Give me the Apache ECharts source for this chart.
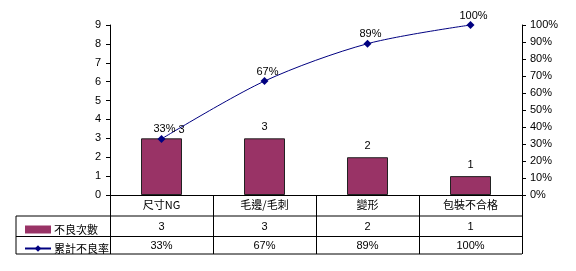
<!DOCTYPE html>
<html><head><meta charset="utf-8">
<script src="https://cdn.jsdelivr.net/npm/echarts@6/dist/echarts.min.js"></script>
<style>html,body{margin:0;padding:0;background:#fff}#c{width:576px;height:271px}</style>
</head><body><div id="c"></div>
<script>
var categories = ['尺寸NG', '毛邊/毛刺', '變形', '包裝不合格'];
var counts = [3, 3, 2, 1];
var cumRate = [0.33, 0.67, 0.89, 1.00];
var cumLabels = ['33%', '67%', '89%', '100%'];
var seriesNames = ['不良次數', '累計不良率'];

var G = {left: 110, right: 54, top: 25, bottom: 76};
var W = 576, H = 271;
var axisY = H - G.bottom;       // 195
var rightX = W - G.right;       // 522
var row1 = axisY + 21, row2 = axisY + 41.5, row3 = axisY + 59;
var FONT = 'Liberation Sans, Arial, sans-serif';
var CJK = '"Noto Sans CJK TC", "Noto Sans CJK SC", sans-serif';

var chart = echarts.init(document.getElementById('c'));
var barData = counts.map(function (v, i) {
  var d = {value: v};
  if (i === 0) d.label = {offset: [20, 3]};
  return d;
});
var lineLabelFmt = function (p) { return cumLabels[p.dataIndex]; };

var hLine = function (x1, y, x2) {
  return {type: 'line', shape: {x1: x1, y1: y, x2: x2, y2: y}, style: {stroke: '#000', lineWidth: 1}, silent: true};
};

chart.setOption({
  animation: false,
  backgroundColor: '#fff',
  textStyle: {fontFamily: FONT},
  grid: {left: G.left, right: G.right, top: G.top, bottom: G.bottom, containLabel: false},
  legend: {
    orient: 'vertical', left: 19, top: 219, itemGap: 8,
    itemWidth: 26, itemHeight: 8,
    textStyle: {fontFamily: CJK, fontSize: 11, color: '#000', padding: [0, 0, 0, -2]},
    data: [
      {name: seriesNames[0], icon: 'rect', itemStyle: {borderWidth: 0}},
      {name: seriesNames[1]}
    ]
  },
  xAxis: [
    {type: 'category', data: categories, position: 'bottom',
     axisLine: {show: true, lineStyle: {color: '#000', width: 1}},
     axisTick: {show: true, length: 59, inside: false, lineStyle: {color: '#000'}},
     axisLabel: {interval: 0, margin: 4, color: '#000', fontSize: 11, fontFamily: CJK}},
    {type: 'category', data: categories, position: 'bottom', offset: 21,
     axisLine: {show: false}, axisTick: {show: false},
     axisLabel: {interval: 0, margin: 5, color: '#000', fontSize: 11, fontFamily: FONT,
       formatter: function (v, i) { return String(counts[i]); }}},
    {type: 'category', data: categories, position: 'bottom', offset: 41.5,
     axisLine: {show: false}, axisTick: {show: false},
     axisLabel: {interval: 0, margin: 4, color: '#000', fontSize: 11, fontFamily: FONT,
       formatter: function (v, i) { return cumLabels[i]; }}}
  ],
  yAxis: [
    {type: 'value', min: 0, max: 9, interval: 1, position: 'left',
     axisLine: {show: true, lineStyle: {color: '#000'}},
     axisTick: {show: true, length: 4, lineStyle: {color: '#000'}},
     splitLine: {show: false},
     axisLabel: {margin: 9, color: '#000', fontSize: 11, fontFamily: FONT}},
    {type: 'value', min: 0, max: 1, interval: 0.1, position: 'right',
     axisLine: {show: true, lineStyle: {color: '#000'}},
     axisTick: {show: true, length: 4, lineStyle: {color: '#000'}},
     splitLine: {show: false},
     axisLabel: {margin: 8, color: '#000', fontSize: 11, fontFamily: FONT,
       formatter: function (v) { return Math.round(v * 100) + '%'; }}}
  ],
  series: [
    {name: seriesNames[0], type: 'bar', xAxisIndex: 0, yAxisIndex: 0, data: barData,
     barWidth: 41,
     itemStyle: {color: '#993366', borderColor: '#222', borderWidth: 1},
     label: {show: true, position: 'top', distance: 6, color: '#000', fontSize: 11, fontFamily: FONT}},
    {name: seriesNames[1], type: 'line', xAxisIndex: 0, yAxisIndex: 1, data: cumRate,
     smooth: 0.3, symbol: 'diamond', symbolSize: 8,
     lineStyle: {color: '#000080', width: 1},
     itemStyle: {color: '#000080'},
     label: {show: true, position: 'top', distance: 0, offset: [3, 0], color: '#000', fontSize: 11,
       fontFamily: FONT, formatter: lineLabelFmt}}
  ],
  graphic: [
    hLine(16, row1, rightX),
    hLine(16, row2, rightX),
    hLine(16, row3, rightX),
    {type: 'line', shape: {x1: 16, y1: row1, x2: 16, y2: row3}, style: {stroke: '#000', lineWidth: 1}, silent: true}
  ]
});
</script></body></html>
